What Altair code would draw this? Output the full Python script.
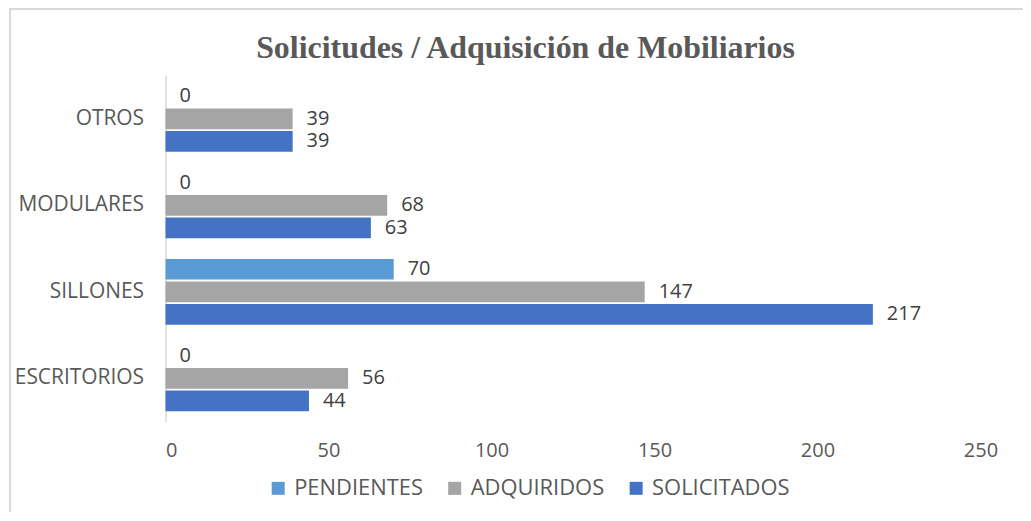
import altair as alt
import pandas as pd

categories = ["ESCRITORIOS", "SILLONES", "MODULARES", "OTROS"]
solicitados = [44, 217, 63, 39]
adquiridos = [56, 147, 68, 39]
pendientes = [0, 70, 0, 0]

series_names = ["PENDIENTES", "ADQUIRIDOS", "SOLICITADOS"]
series_colors = ["#5B9BD5", "#A5A5A5", "#4472C4"]
cat_order = ["OTROS", "MODULARES", "SILLONES", "ESCRITORIOS"]
title_text = ["Solicitudes / Adquisición de Mobiliarios"]

rows = []
for i, c in enumerate(categories):
    for name, vals in zip(series_names, [pendientes, adquiridos, solicitados]):
        rows.append({"categoria": c, "serie": name, "valor": vals[i]})
df = pd.DataFrame(rows)

FONT = "Open Sans"

y_enc = alt.Y("categoria:N", sort=cat_order,
              scale=alt.Scale(paddingInner=0.24, paddingOuter=0.12),
              axis=alt.Axis(title=None, labelFont=FONT, labelFontSize=21,
                            labelColor="#595959", labelPadding=22, ticks=False,
                            domain=True, domainColor="#d9d9d9", domainWidth=1.5))
yoff = alt.YOffset("serie:N", sort=series_names,
                   scale=alt.Scale(paddingInner=0.08))
x_enc = alt.X("valor:Q", scale=alt.Scale(domain=[0, 250]),
              axis=alt.Axis(title=None, values=[0, 50, 100, 150, 200, 250],
                            labelFont=FONT, labelFontSize=20, labelColor="#595959",
                            labelPadding=19, ticks=False, domain=False, grid=False))

bars = alt.Chart(df).mark_bar().encode(
    x=x_enc,
    y=y_enc,
    yOffset=yoff,
    color=alt.Color("serie:N", sort=series_names,
                    scale=alt.Scale(domain=series_names, range=series_colors),
                    legend=alt.Legend(title=None, orient="none", direction="horizontal",
                                      columns=3, legendX=102, legendY=403,
                                      symbolType="square", symbolSize=170,
                                      symbolStrokeWidth=0, labelFont=FONT,
                                      labelFontSize=22, labelColor="#595959",
                                      labelOffset=5, columnPadding=20)),
)

labels = alt.Chart(df).mark_text(align="left", baseline="middle", dx=14,
                                 font=FONT, fontSize=20, color="#404040").encode(
    x="valor:Q",
    y=alt.Y("categoria:N", sort=cat_order),
    yOffset=alt.YOffset("serie:N", sort=series_names),
    text="valor:Q",
)

frame = alt.Chart(df).mark_rect(fill=None, stroke="#d9d9d9", strokeWidth=1.5).encode(
    x=alt.value(-156), x2=alt.value(870), y=alt.value(-67), y2=alt.value(446)
)

title = alt.Chart(pd.DataFrame({"t": title_text})).mark_text(
    font="Liberation Serif", fontSize=32, fontWeight="bold", color="#595959",
    align="center", baseline="alphabetic",
).encode(x=alt.value(361), y=alt.value(-18), text="t:N")

chart = alt.layer(frame, bars, labels, title).properties(
    width=850,
    height=347,
    autosize=alt.AutoSizeParams(type="none"),
    padding={"left": 158, "top": 67, "right": 10, "bottom": 90},
).configure_view(stroke=None).configure_axis(grid=False)

chart.save("out.html", embed_options={"renderer": "svg", "actions": False})
